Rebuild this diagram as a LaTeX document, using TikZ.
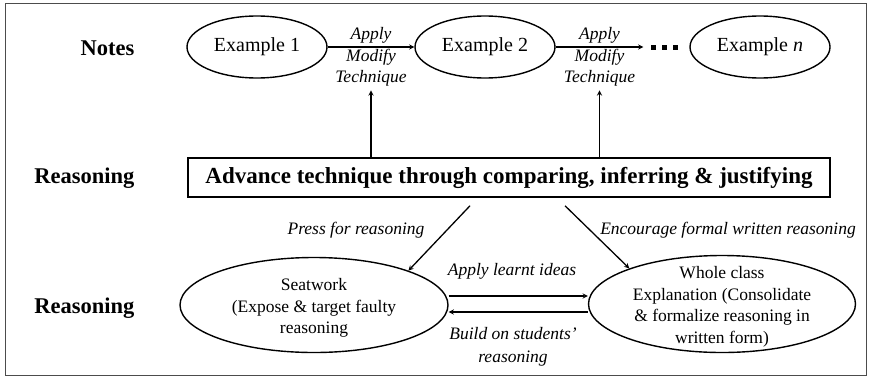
\documentclass[tikz,border=0pt]{standalone}
\usepackage{fontspec}
\setmainfont{Liberation Serif}
\usetikzlibrary{shapes.geometric, arrows}
\tikzstyle{example} = [ellipse, minimum width=140pt, minimum height=62pt, inner sep=0pt, draw=black, line width=1.4pt, font=\fontsize{20}{24}\selectfont]
\tikzstyle{mode} = [ellipse, minimum width=268pt, minimum height=95pt, inner sep=0pt, draw=black, line width=1.4pt]
\tikzstyle{modetext} = [align=center, inner sep=0pt, font=\fontsize{17.5}{21.5}\selectfont]
\tikzstyle{advance} = [rectangle, minimum width=642pt, minimum height=39pt, draw=black, line width=1.5pt, font=\bfseries\fontsize{23}{27}\selectfont]
\tikzstyle{rowname} = [anchor=east, font=\bfseries\fontsize{22.5}{26}\selectfont]
\tikzstyle{action} = [align=center, font=\itshape\fontsize{17.5}{21.5}\selectfont]
\tikzstyle{arrow} = [line width=1.3pt,->,>=stealth]

\begin{document}
\begin{tikzpicture}[x=1pt, y=-1pt, node distance=228pt]

\useasboundingbox (0,0) rectangle (869,378);
\draw [black!70, line width=1pt] (5,3) rectangle (866,375);

\node (notes) [rowname] at (138,48) {Notes};
\node (reas1) [rowname] at (138,178) {Reasoning};
\node (reas2) [rowname] at (138,308) {Reasoning};

\node (ex1) [example] at (257,47) {Example 1};
\node (ex2) [example, right of=ex1] {Example 2};
\node (dots) [right of=ex2, xshift=-49pt, inner sep=0pt, inner xsep=7pt] {\rule{5pt}{5pt}\hspace{6pt}\rule{5pt}{5pt}\hspace{6pt}\rule{5pt}{5pt}};
\node (exn) [example, right of=ex2, xshift=47pt] {Example \textit{n}};

\node (box) [advance] at (509,177.5) {Advance technique through comparing, inferring \& justifying};

\node (seat) [mode, label={[modetext, yshift=-3pt]center:Seatwork\\(Expose \& target faulty\\reasoning}] at (314,305) {};
\node (whole) [mode, minimum width=267pt, minimum height=97pt, label={[modetext, yshift=-3pt]center:Whole class\\Explanation (Consolidate\\\& formalize reasoning in\\written form)}] at (722,304) {};

\node (press) [action] at (356,230) {Press for reasoning};
\node (encourage) [action] at (728,230) {Encourage formal written reasoning};
\node (apply) [action] at (512,271) {Apply learnt ideas};
\node (build) [action, font=\itshape\fontsize{17.5}{23}\selectfont] at (513,347) {Build on students'\\reasoning};

\draw [arrow] (ex1) -- node (tech1) [action, yshift=-10pt] {Apply\\Modify\\Technique} (ex2);
\draw [arrow] (ex2) -- node (tech2) [action, yshift=-10pt] {Apply\\Modify\\Technique} (dots);

\draw [arrow] (box.north -| tech1) -- (tech1);
\draw [arrow] (box.north -| tech2) -- (tech2);

\draw [arrow] ([xshift=-39pt, yshift=-8pt]box.south) -- (seat.20);
\draw [arrow] ([xshift=56pt, yshift=-8pt]box.south) -- (whole.159);

\draw [arrow] ([yshift=9pt]seat.east) -- ([yshift=8pt]whole.west);
\draw [arrow] ([yshift=-8pt]whole.west) -- ([yshift=-7pt]seat.east);

\end{tikzpicture}
\end{document}
